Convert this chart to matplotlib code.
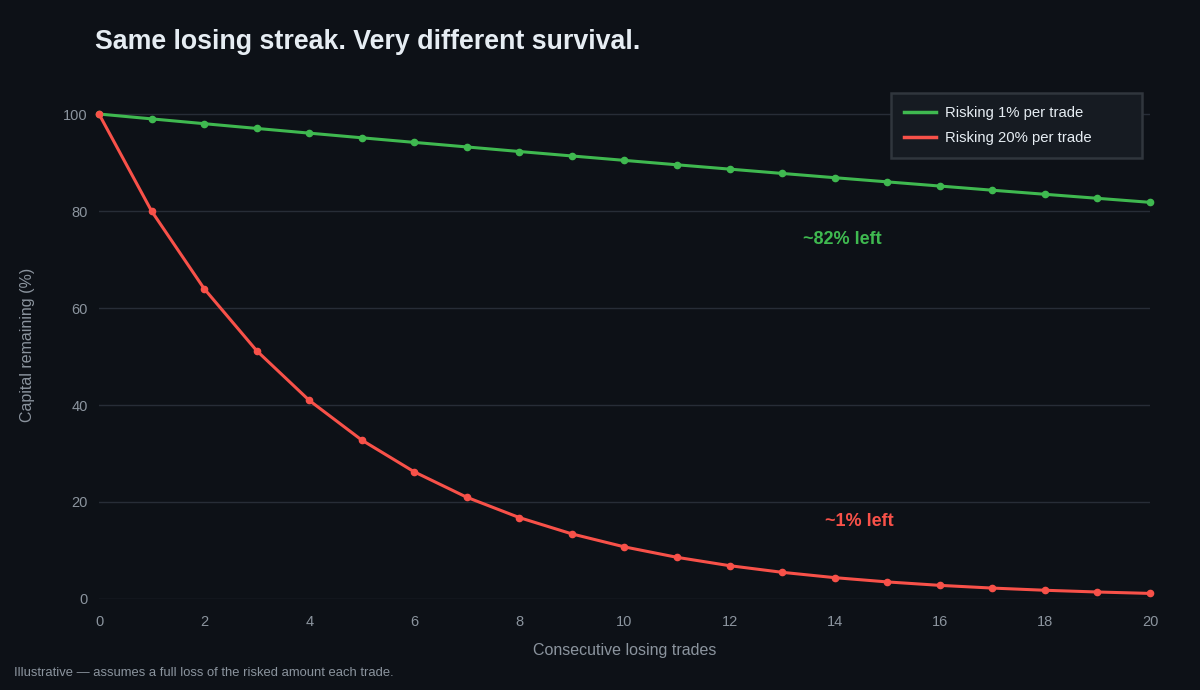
import matplotlib
matplotlib.use('Agg')
import matplotlib.pyplot as plt
from matplotlib.lines import Line2D

# consecutive losing trades and capital remaining (%)
trades = list(range(21))
risk_1pct = [100.0, 99.0, 98.01, 97.03, 96.06, 95.10, 94.15, 93.21, 92.27, 91.35, 90.44,
             89.53, 88.64, 87.75, 86.87, 86.01, 85.15, 84.29, 83.45, 82.62, 81.79]
risk_20pct = [100.0, 80.0, 64.0, 51.2, 40.96, 32.77, 26.21, 20.97, 16.78, 13.42, 10.74,
              8.59, 6.87, 5.50, 4.40, 3.52, 2.81, 2.25, 1.80, 1.44, 1.15]
labels = ['Risking 1% per trade', 'Risking 20% per trade']

BG = '#0d1117'
GREEN = '#3fb950'
RED = '#f85149'
TICK = '#8b949e'
GRID = '#272d37'

plt.rcParams['font.family'] = ['Liberation Sans', 'DejaVu Sans']

fig = plt.figure(figsize=(12, 6.9), dpi=100, facecolor=BG)
ax = fig.add_axes([0.0825, 0.1319, 0.8758, 0.738])
ax.set_facecolor(BG)

ax.plot(trades, risk_1pct, color=GREEN, lw=2.2, marker='o', ms=4.5, zorder=3, clip_on=False)
ax.plot(trades, risk_20pct, color=RED, lw=2.2, marker='o', ms=4.5, zorder=4, clip_on=False)

ax.set_xlim(0, 20)
ax.set_ylim(0, 105)
ax.set_xticks(range(0, 21, 2))
ax.set_yticks(range(0, 101, 20))
ax.grid(axis='y', color=GRID, lw=1)
ax.set_axisbelow(True)
for s in ax.spines.values():
    s.set_visible(False)
ax.tick_params(colors=TICK, labelsize=10.5, length=0)
ax.tick_params(axis='x', pad=11.5)
ax.tick_params(axis='y', pad=8)

ax.set_xlabel('Consecutive losing trades', color=TICK, fontsize=11.5, labelpad=10)
ax.set_ylabel('Capital remaining (%)', color=TICK, fontsize=11.5, labelpad=20)

ax.text(14.15, 74.1, '~82% left', color=GREEN, fontsize=13, fontweight='bold',
        ha='center', va='center')
ax.text(14.46, 16.0, '~1% left', color=RED, fontsize=13, fontweight='bold',
        ha='center', va='center')

# legend box: fixed width, placed at the top right of the plot area
handles = [Line2D([], [], color=GREEN, lw=2.5), Line2D([], [], color=RED, lw=2.5)]
leg = ax.legend(handles, labels, loc='upper left', mode='expand',
                bbox_to_anchor=(0.7536, 0.6, 0.2388, 0.3937),
                fontsize=10.7, frameon=True, facecolor='#161b22', edgecolor='#30363d',
                labelcolor='#e6edf3', borderpad=0.9, borderaxespad=0, handlelength=2.15,
                handletextpad=0.55, labelspacing=0.7, fancybox=False)
leg.get_frame().set_linewidth(1.8)
leg.get_frame().set_alpha(1)

fig.text(0.079, 0.939, 'Same losing streak. Very different survival.', color='#e6edf3',
         fontsize=19.3, fontweight='bold', ha='left', va='center')
fig.text(0.012, 0.025, 'Illustrative \u2014 assumes a full loss of the risked amount each trade.',
         color='#8b949e', fontsize=9.4, ha='left', va='center')

fig.savefig('out.png', dpi=100, facecolor=BG)
